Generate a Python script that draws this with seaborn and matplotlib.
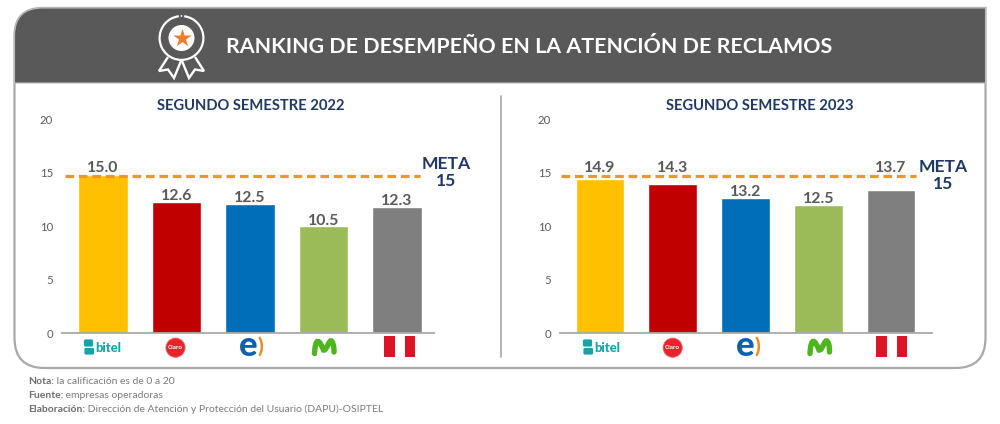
import matplotlib
matplotlib.use("Agg")
import matplotlib.pyplot as plt
import seaborn as sns
import pandas as pd
from matplotlib.path import Path
from matplotlib.patches import PathPatch, Circle, Polygon, FancyBboxPatch, Rectangle, Wedge

# ---- data ----
operators = ["Bitel", "Claro", "Entel", "Movistar", "Perú"]
bars_2022 = [14.8, 12.3, 12.1, 10.0, 11.8]      # drawn bar heights
labels_2022 = ["15.0", "12.6", "12.5", "10.5", "12.3"]
bars_2023 = [14.4, 14.0, 12.7, 12.05, 13.4]     # drawn bar heights
labels_2023 = ["14.9", "14.3", "13.2", "12.5", "13.7"]
goal_line = 14.76
yticks = [0, 5, 10, 15, 20]
colors = ["#FFC000", "#C00000", "#006EB8", "#9BBB59", "#7F7F7F"]

NAVY = "#1F3864"
GREY = "#595959"
FRAME = "#A9A9A9"

sns.set_theme(style="white")
plt.rcParams["font.family"] = ["Lato", "DejaVu Sans"]

fig = plt.figure(figsize=(10, 4.24), dpi=100, facecolor="white")
bg = fig.add_axes([0, 0, 1, 1], zorder=0)
bg.set_xlim(0, 1000)
bg.set_ylim(424, 0)
bg.axis("off")


def rounded(x0, y0, x1, y1, tl, tr, br, bl):
    v = [(x0 + tl, y0), (x1 - tr, y0), (x1, y0), (x1, y0 + tr), (x1, y1 - br), (x1, y1),
         (x1 - br, y1), (x0 + bl, y1), (x0, y1), (x0, y1 - bl), (x0, y0 + tl), (x0, y0),
         (x0 + tl, y0), (x0 + tl, y0)]
    c = [Path.MOVETO, Path.LINETO, Path.CURVE3, Path.CURVE3, Path.LINETO, Path.CURVE3,
         Path.CURVE3, Path.LINETO, Path.CURVE3, Path.CURVE3, Path.LINETO, Path.CURVE3,
         Path.CURVE3, Path.CLOSEPOLY]
    return Path(v, c)


# frame and header
bg.add_patch(PathPatch(rounded(14.5, 8, 985.5, 368, 28, 0, 30, 30), fc="white", ec=FRAME, lw=1.6))
bg.add_patch(PathPatch(rounded(14.5, 8, 985.5, 83, 28, 0, 0, 0), fc="#595959", ec="#BDBDBD", lw=0.8))
bg.plot([500.5, 500.5], [96, 357], color=FRAME, lw=1.2)

# medal icon
mx, my = 181.5, 38
bg.add_patch(Wedge((mx, my), 23, -83, 263, width=2.2, fc="white", ec="none"))
bg.add_patch(Circle((mx, 16), 0.9, fc="white", ec="none"))
bg.add_patch(Circle((mx, my), 13, fc="white", ec="none"))
bg.scatter([mx], [my], marker="*", s=190, color="#ED7D31", linewidths=0, zorder=3)
for pts in ([(168, 57), (159, 71), (168, 69.5), (174, 78), (181, 61)],
            [(195, 57), (204, 71), (195, 69.5), (189, 78), (182, 61)]):
    bg.add_patch(Polygon(pts, closed=False, fc="none", ec="white", lw=1.7, joinstyle="miter"))

bg.text(529.5, 47, "RANKING DE DESEMPEÑO EN LA ATENCIÓN DE RECLAMOS", color="white",
        fontsize=15.4, fontweight="bold", ha="center", va="center")

# footnotes
notes = [("Nota:", " la calificación es de 0 a 20", 384),
         ("Fuente:", " empresas operadoras", 398),
         ("Elaboración:", " Dirección de Atención y Protección del Usuario (DAPU)-OSIPTEL", 412)]
for head, body, ypx in notes:
    t = bg.text(28, ypx, head, color="#6E6E6E", fontsize=7.45, fontweight="bold", va="baseline")
    end = t.get_window_extent(fig.canvas.get_renderer()).x1
    bg.text(end, ypx, body, color="#7A7A7A", fontsize=7.45, va="baseline")


def draw_logos(cx, flag):
    # bitel
    x = cx[0]
    teal = "#14A3A6"
    bg.add_patch(FancyBboxPatch((x - 17.5, 341), 6, 4, boxstyle="round,pad=1.6", fc=teal, ec="none"))
    bg.add_patch(FancyBboxPatch((x - 17, 349.5), 6.5, 3.5, boxstyle="round,pad=1.6", fc=teal, ec="none"))
    bg.text(x - 7.5, 348.3, "bitel", color=teal, fontsize=9.4, fontweight="black", va="center", ha="left")
    # claro
    x = cx[1]
    bg.add_patch(Circle((x, 347.7), 9.6, fc="#E9232B", ec="#F4686D", lw=0.6))
    bg.text(x, 347.5, "Claro", color="white", fontsize=4.6, fontweight="bold", ha="center", va="center")
    # entel
    x = cx[2]
    bg.text(x - 3, 345.5, "e", color="#0A62AE", fontsize=25, fontweight="black", ha="center", va="center")
    bg.text(x + 9, 346, ")", color="#F08A1D", fontsize=15, fontweight="black", ha="center", va="center")
    # movistar
    x = cx[3]
    verts = [(x - 9.5, 353.5), (x - 8.5, 336), (x - 4.5, 340), (x - 0.5, 350),
             (x + 3, 351), (x + 5, 338), (x + 8, 341.5), (x + 10, 345), (x + 10, 349), (x + 10, 352)]
    codes = [Path.MOVETO] + [Path.CURVE4] * 9
    bg.add_patch(PathPatch(Path(verts, codes), fc="none", ec="#4FB51E", lw=3.9, capstyle="round"))
    # flag
    for off in flag:
        bg.add_patch(Rectangle((off, 336), 10.5, 20.5, fc="#DC1427", ec="none"))


def panel(left_px, right_px, span, centers, bars, labels, title, title_x, meta_x, meta_y):
    top, bottom = 119.5, 333.4
    ax = fig.add_axes([left_px / 1000, (424 - bottom) / 424, (right_px - left_px) / 1000,
                       (bottom - top) / 424], zorder=2)
    ax.patch.set_alpha(0)
    df = pd.DataFrame({"operador": operators, "valor": bars})
    sns.barplot(data=df, x="operador", y="valor", hue="operador", palette=colors, dodge=False,
                legend=False, width=0.67, saturation=1, ax=ax, zorder=2)
    step = centers[1]
    ax.set_xlim((left_px - centers[0]) / step, (right_px - centers[0]) / step)
    ax.set_ylim(0, 20)
    ax.set_yticks(yticks)
    ax.set_xticks([])
    ax.set_xlabel("")
    ax.set_ylabel("")
    ax.tick_params(axis="y", length=0, pad=6.5, labelsize=8.2, labelcolor=GREY)
    sns.despine(ax=ax, left=True)
    ax.spines["bottom"].set_color(FRAME)
    ax.spines["bottom"].set_linewidth(1.3)
    ax.hlines(goal_line, span[0], span[1], transform=ax.get_yaxis_transform(), color="#EA972B",
              lw=2.3, linestyles=(0, (2.7, 1.5)), zorder=3)
    for i, (h, lab) in enumerate(zip(bars, labels)):
        y = h + 0.55
        if abs(y - goal_line) < 0.9:
            y = goal_line + 0.75
        ax.text(i, y, lab, ha="center", va="center", color=GREY, fontsize=11.4, fontweight="bold", zorder=4)
    bg.text(title_x, 106.5, title, color=NAVY, fontsize=10.6, fontweight="bold", ha="center", va="center")
    bg.text(meta_x, meta_y, "META", color=NAVY, fontsize=12.6, fontweight="bold", ha="center", va="center")
    bg.text(meta_x, meta_y + 17, "15", color=NAVY, fontsize=12.6, fontweight="bold", ha="center", va="center")


panel(62, 434, (0.008, 0.962), (103, 73.5), bars_2022, labels_2022,
      "SEGUNDO SEMESTRE 2022", 251, 446, 164)
panel(560, 932, (0.003, 0.957), (600, 72.75), bars_2023, labels_2023,
      "SEGUNDO SEMESTRE 2023", 760, 943, 167)

draw_logos((103, 175.5, 251, 324), (384, 404.5))
draw_logos((602, 672.7, 748, 819.5), (876, 896.5))

fig.savefig("out.png", dpi=100, facecolor="white")
